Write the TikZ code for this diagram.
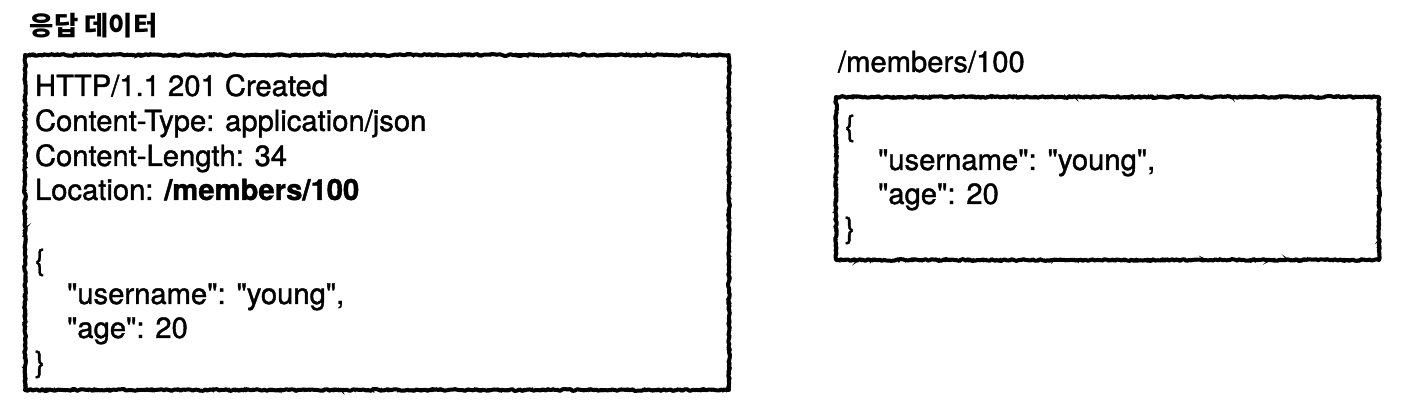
\documentclass[tikz,border=0pt]{standalone}
\usepackage{fontspec}
\setmainfont{TeX Gyre Heros}[FakeBold=1.3, Ligatures=TeXOff]
\newfontfamily\krfont{Noto Sans CJK KR}
\usetikzlibrary{decorations.pathmorphing}
\tikzset{
  sketch/.style={draw=black, line width=2pt, line join=round, decorate,
    decoration={random steps, segment length=1.2pt, amplitude=0.45pt}},
  sketchthin/.style={draw=black, line width=0.8pt, decorate,
    decoration={random steps, segment length=1pt, amplitude=0.8pt}},
  area/.style={draw=none, inner sep=0pt, outer sep=0pt, anchor=north west},
  txt/.style={anchor=base west, inner sep=0pt, outer sep=0pt,
    font=\fontsize{14.6pt}{17pt}\selectfont},
  title/.style={anchor=base west, inner sep=0pt, outer sep=0pt,
    font=\krfont\bfseries\fontsize{13.2pt}{15pt}\selectfont},
}
\begin{document}
\begin{tikzpicture}[x=0.5pt,y=-0.5pt]
\pgfmathsetseed{7}
\useasboundingbox (0,0) rectangle (1410,405);
\fill[white] (0,0) rectangle (1410,405);

% title
\node[title] (ttl) at (30,36) {응답 데이터};

% left box
\node[area, minimum width=352pt, minimum height=167.5pt] (resp) at (25,55) {};
\draw[sketch] (resp.north west) rectangle (resp.south east);
\draw[sketchthin] (resp.north west) rectangle (resp.south east);

\node[txt] (l1) at (35,96)  {HTTP/1.1 201 Created};
\node[txt] (l2) at (35,131) {Content-Type: application/json};
\node[txt] (l3) at (35,166) {Content-Length: 34};
\node[txt] (l4) at (35,200) {Location: \textbf{/members/100}};
\node[txt] (l5) at (35,270) {\{};
\node[txt] (l6) at (67,304) {"username": "young",};
\node[txt] (l7) at (67,338) {"age": 20};
\node[txt] (l8) at (35,372) {\}};

% right title
\node[txt] (rt) at (838,72) {/members/100};

% right box
\node[area, minimum width=271.5pt, minimum height=81.5pt] (res) at (836,97) {};
\draw[sketch] (res.north west) rectangle (res.south east);
\draw[sketchthin] (res.north west) rectangle (res.south east);

\node[txt] (r1) at (845,136) {\{};
\node[txt] (r2) at (878,170) {"username": "young",};
\node[txt] (r3) at (878,204) {"age": 20};
\node[txt] (r4) at (845,238) {\}};
\end{tikzpicture}
\end{document}
